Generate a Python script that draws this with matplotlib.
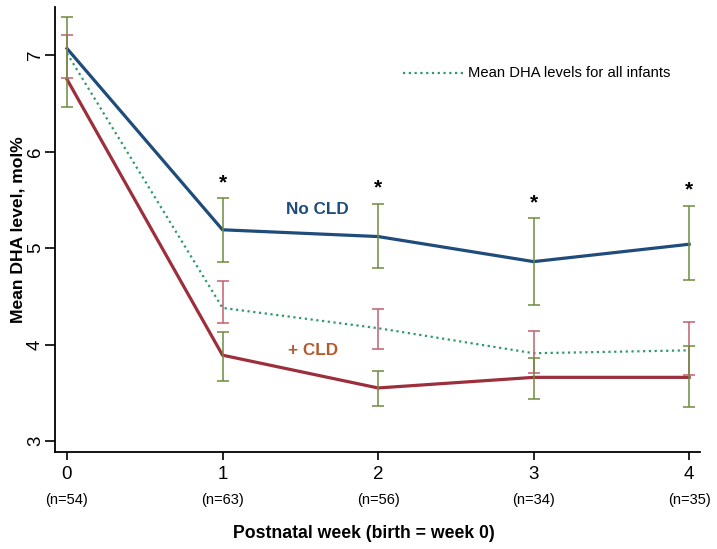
import matplotlib
matplotlib.use("Agg")
import matplotlib.pyplot as plt
import numpy as np

plt.rcParams['font.family'] = ['Liberation Sans', 'DejaVu Sans']

weeks = [0, 1, 2, 3, 4]
n_labels = ["(n=54)", "(n=63)", "(n=56)", "(n=34)", "(n=35)"]

no_cld = [7.07, 5.19, 5.12, 4.86, 5.04]
plus_cld = [6.75, 3.89, 3.55, 3.66, 3.66]
all_infants = [7.02, 4.38, 4.17, 3.91, 3.94]

# error bar ranges (low, high)
nocld_lo = [6.46, 4.86, 4.79, 4.41, 4.67]
nocld_hi = [7.40, 5.52, 5.46, 5.31, 5.44]
cld_weeks = [1, 2, 3, 4]
cld_lo = [3.62, 3.36, 3.44, 3.35]
cld_hi = [4.13, 3.73, 3.86, 3.98]
all_lo = [6.76, 4.22, 3.95, 3.70, 3.68]
all_hi = [7.21, 4.66, 4.37, 4.14, 4.23]

star_weeks = [1, 2, 3, 4]

blue = "#1F4C7A"
red = "#9C2F3B"
green_bar = "#6E8B3D"
red_bar = "#C0606F"
dot_green = "#2E9A6A"
orange = "#B45A2C"

fig = plt.figure(figsize=(7.17, 5.49), dpi=100)
ax = fig.add_axes([55/717, 1-452/549, (700-55)/717, (452-7)/549])

ax.plot(weeks, no_cld, color=blue, lw=2.3, zorder=3)
ax.plot(weeks, plus_cld, color=red, lw=2.3, zorder=3)
ax.plot(weeks, all_infants, color=dot_green, lw=1.6, ls=(0, (1, 1.6)), zorder=3)

def bars(x, lo, hi, color):
    lo = np.array(lo); hi = np.array(hi)
    c = (lo + hi) / 2
    ax.errorbar(x, c, yerr=[c - lo, hi - c], fmt='none', ecolor=color,
                elinewidth=1.1, capsize=4.5, capthick=1.1, zorder=4)

bars(weeks, all_lo, all_hi, red_bar)
bars(weeks, nocld_lo, nocld_hi, green_bar)
bars(cld_weeks, cld_lo, cld_hi, green_bar)

for w in star_weeks:
    ax.text(w, nocld_hi[w] + 0.16, "*", ha='center', va='center',
            fontsize=15, fontweight='bold', color='black')

ax.text(1.61, 5.40, "No CLD", ha='center', va='center', fontsize=12.3,
        fontweight='bold', color=blue)
ax.text(1.58, 3.94, "+ CLD", ha='center', va='center', fontsize=12.3,
        fontweight='bold', color=orange)

# legend-like annotation
ax.plot([2.16, 2.55], [6.82, 6.82], color=dot_green, lw=1.6, ls=(0, (1, 1.6)))
ax.text(2.58, 6.82, "Mean DHA levels for all infants", ha='left', va='center',
        fontsize=10.6, color='black')

ax.set_xlim(-0.077, 4.07)
ax.set_ylim(2.886, 7.50)
ax.set_xticks(weeks)
ax.set_xticklabels([str(w) for w in weeks], fontsize=13.5)
ax.set_yticks([3, 4, 5, 6, 7])
ax.set_yticklabels(["3", "4", "5", "6", "7"], fontsize=13.5, rotation=90, va='center')
ax.tick_params(axis='x', length=6, width=1.2, pad=4)
ax.tick_params(axis='y', length=7, width=1.2, pad=1)

for s in ['top', 'right']:
    ax.spines[s].set_visible(False)
for s in ['left', 'bottom']:
    ax.spines[s].set_linewidth(1.3)

for w, lab in zip(weeks, n_labels):
    ax.text(w, -0.108, lab, transform=ax.get_xaxis_transform(), ha='center',
            va='center', fontsize=10.5)

fig.text((233+495)/2/717, 1-533/549, "Postnatal week (birth = week 0)", ha='center',
         va='center', fontsize=12.7, fontweight='bold')
fig.text(18/717, 1-230/549, "Mean DHA level, mol%", ha='center', va='center',
         rotation=90, fontsize=12.6, fontweight='bold')

fig.savefig("out.png", dpi=100)
